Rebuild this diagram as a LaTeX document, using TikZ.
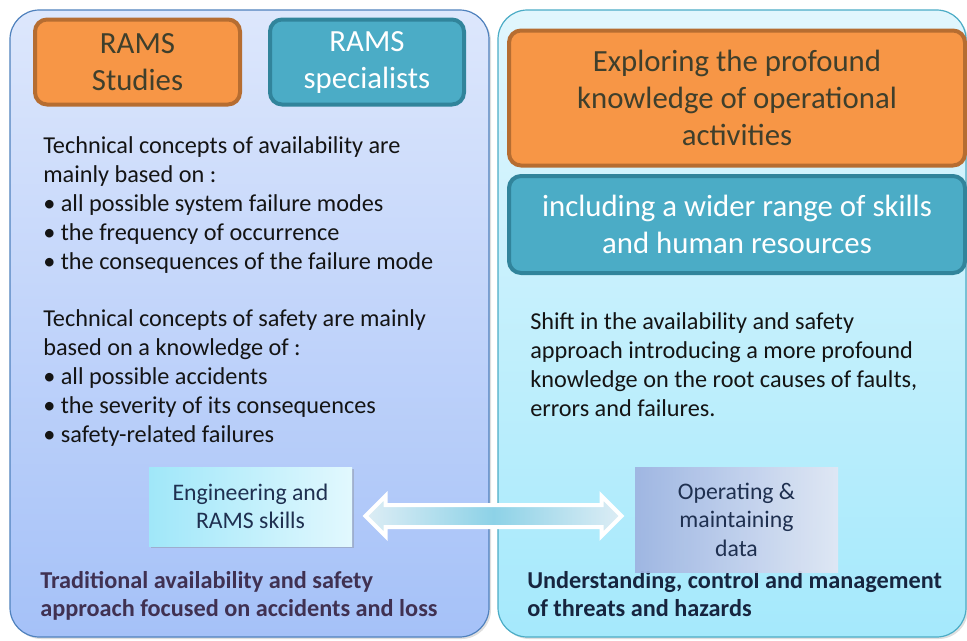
\documentclass[tikz,border=0pt]{standalone}
\usepackage{fontspec}
\setmainfont{Carlito}
\usetikzlibrary{shapes.arrows,shadows,calc}
\definecolor{orangefill}{HTML}{F79646}
\definecolor{orangeline}{HTML}{B66D31}
\definecolor{tealfill}{HTML}{4BACC6}
\definecolor{tealline}{HTML}{31849B}
\definecolor{boxtext}{HTML}{3F3F2C}
\definecolor{bodytext}{HTML}{141414}
\definecolor{lefttitle}{HTML}{403152}
\definecolor{righttitle}{HTML}{17253F}
\definecolor{smalltext}{HTML}{1F3050}
\definecolor{leftline}{HTML}{4F81BD}
\definecolor{lefttop}{HTML}{DDE7FC}
\definecolor{leftbottom}{HTML}{A5C1F8}
\definecolor{righttop}{HTML}{E1F6FD}
\definecolor{rightbottom}{HTML}{A5E9FC}
\definecolor{englight}{HTML}{A0E7F9}
\definecolor{engpale}{HTML}{E2F8FE}
\definecolor{opsdark}{HTML}{9EB3E1}
\definecolor{opspale}{HTML}{E2E7F4}
\definecolor{linkend}{HTML}{DDEDF5}
\definecolor{linkmid}{HTML}{8DD2E7}
\begin{document}
\begin{tikzpicture}[x=0.75pt,y=-0.75pt,
  panel/.style={rounded corners=22pt, line width=0.9pt,
    drop shadow={shadow xshift=1.5pt, shadow yshift=-1.5pt, opacity=0.25}},
  orangebox/.style={draw=orangeline, fill=orangefill, text=boxtext,
    rounded corners=9pt, line width=3pt, align=center, inner sep=0pt,
    font=\fontsize{23.1}{27.75}\selectfont},
  tealbox/.style={orangebox, draw=tealline, fill=tealfill, text=white},
  bodytxt/.style={anchor=north west, align=left, inner sep=0pt, text=bodytext,
    font=\fontsize{18.2}{21.75}\selectfont},
  titletxt/.style={bodytxt, font=\bfseries\fontsize{18.2}{21}\selectfont},
  skillbox/.style={align=center, inner sep=0pt, text=smalltext,
    minimum width=152.25pt, font=\fontsize{17.8}{21.3}\selectfont}]
\useasboundingbox (0,0) rectangle (967,640);
\clip (0,0) rectangle (967,640);
% the two panels
\draw [panel, draw=leftline, top color=lefttop, bottom color=leftbottom]
  (10,10) rectangle (489,637);
\draw [panel, draw=tealfill, top color=righttop, bottom color=rightbottom]
  (498,10) rectangle (966,637);
% headings
\node [orangebox, minimum width=153.75pt, minimum height=63.75pt] (studies) at (137.5,62) {RAMS\\Studies};
\node [tealbox, minimum width=145.5pt, minimum height=63.75pt] (specialists) at (367,62) {RAMS\\specialists};
\node [orangebox, minimum width=342pt, minimum height=101.25pt] (explore) at (737,98)
  {Exploring the profound\\knowledge of operational\\activities};
\node [tealbox, minimum width=342pt, minimum height=72.75pt] (skills) at (737,224.5)
  {including a wider range of skills\\and human resources};
% body texts
\node [bodytxt] (avail) at (43,136) {Technical concepts of availability are\\mainly based on :\\
  \textbullet{} all possible system failure modes\\\textbullet{} the frequency of occurrence\\
  \textbullet{} the consequences of the failure mode};
\node [bodytxt] (safety) at (43,309) {Technical concepts of safety are mainly\\based on a knowledge of :\\
  \textbullet{} all possible accidents\\\textbullet{} the severity of its consequences\\
  \textbullet{} safety-related failures};
\node [bodytxt] (shift) at (530,312) {Shift in the availability and safety\\approach introducing a more profound\\
  knowledge on the root causes of faults,\\errors and failures.};
% bottom titles
\node [titletxt, text=lefttitle] (traditional) at (40,571) {Traditional availability and safety\\approach focused on accidents and loss};
\node [titletxt, text=righttitle] (understanding) at (527,571) {Understanding, control and management\\of threats and hazards};
% skill boxes
\node [skillbox, minimum height=59.25pt, left color=englight, right color=engpale,
  drop shadow={shadow xshift=1.5pt, shadow yshift=-1.5pt, opacity=0.35}] (eng) at (250.5,506.5)
  {Engineering and\\RAMS skills};
\node [skillbox, minimum height=78.75pt, left color=opsdark, right color=opspale,
  fill opacity=0.93, text opacity=1] (ops) at (736.5,519.5) {Operating \&\\maintaining\\data};
\node [double arrow, double arrow head extend=6.75pt, minimum height=192pt,
  inner xsep=0pt, inner ysep=6.75pt, draw=white, line width=3pt, left color=linkend, right color=linkend,
  middle color=linkmid, drop shadow={shadow xshift=0.8pt, shadow yshift=-0.8pt, opacity=0.2}]
  (link) at ($(eng.east)!0.5!(ops.west)+(0,-2.25pt)$) {};
\end{tikzpicture}
\end{document}
